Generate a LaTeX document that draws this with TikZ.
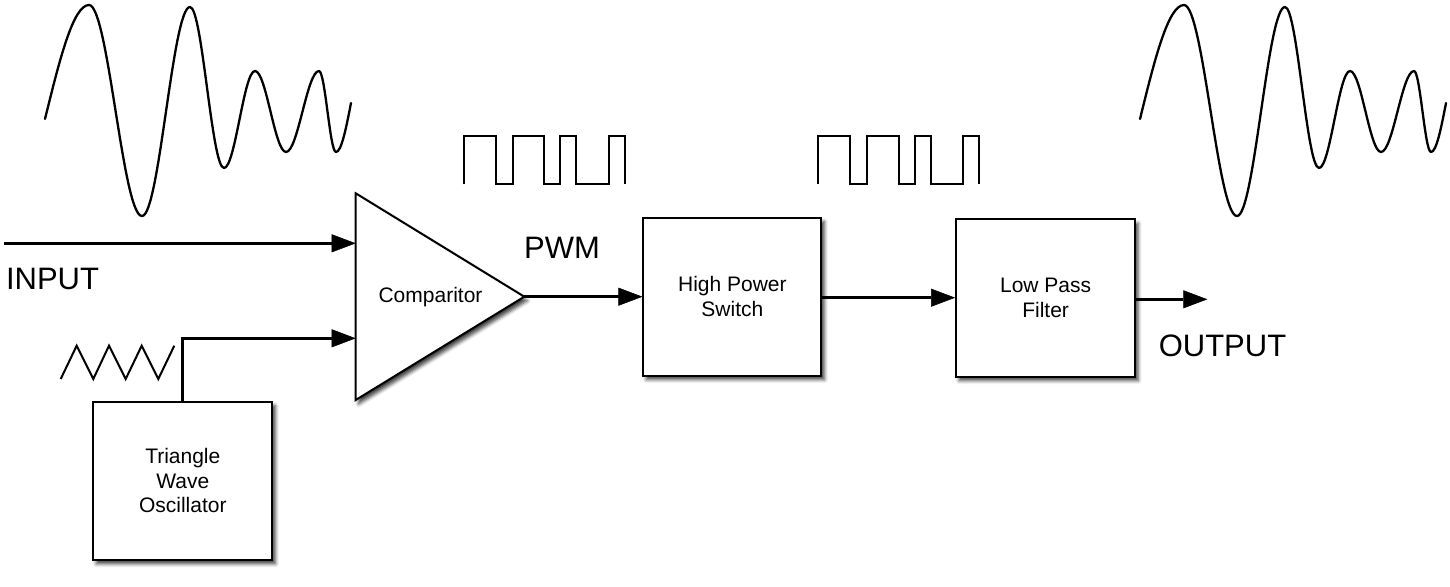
\documentclass[tikz,border=0pt]{standalone}
\usepackage{fontspec}
\setmainfont{Liberation Sans}
\usetikzlibrary{arrows.meta,shadows.blur}
\begin{document}
\begin{tikzpicture}[x=1pt,y=-1pt,
  wire/.style={line width=3pt,-{Triangle[length=24pt,width=18pt,line width=0.5pt,fill=black]}},
  shad/.style={blur shadow={shadow xshift=3pt,shadow yshift=-4pt,shadow blur radius=3.5pt,shadow opacity=75}},
  block/.style={draw,line width=2pt,fill=white,shad,align=center,
    font=\fontsize{21}{24.5}\selectfont,inner sep=0pt},
  biglabel/.style={font=\fontsize{31}{36}\selectfont,inner sep=0pt},
  wave/.style={line width=2.3pt,line join=round,line cap=round},
  sq/.style={line width=2pt,line join=miter}]
\useasboundingbox (0,0) rectangle (1450,586);

% input / output waveforms
\newcommand{\sigwave}{%
  \draw[wave] (45,119) sin (89,5) cos (115.5,110.5) sin (142,216)
    cos (166,111.5) sin (190,7) cos (207,87.5) sin (224,168)
    cos (239.5,119.5) sin (255,71) cos (270.5,111.5) sin (286,152)
    cos (302.5,111.5) sin (319,71) cos (327.5,111.5) sin (336,152)
    cos (351,103);}
\sigwave
\begin{scope}[shift={(1095,0)}]\sigwave\end{scope}

% PWM square waves
\newcommand{\pwmwave}{%
  \draw[sq] (463.6,184.3)--(463.6,135.7)--(496.1,135.7)--(496.1,184.3)--(512.5,184.3)
    --(512.5,135.7)--(544.3,135.7)--(544.3,184.3)--(560.4,184.3)--(560.4,135.7)
    --(576.4,135.7)--(576.4,184.3)--(608.6,184.3)--(608.6,135.7)--(625,135.7)--(625,184.3);}
\pwmwave
\begin{scope}[shift={(354.3,0)}]\pwmwave\end{scope}

% triangle wave
\draw[sq] (60.7,379)--(76.7,345.7)--(93.3,379)--(109,345.7)--(125.7,379)
  --(141.7,345.7)--(158.3,379)--(174.3,345.7);

% comparator
\coordinate (ctop) at (355.7,193.3);
\coordinate (cbot) at (355.7,400);
\coordinate (cout) at (524.3,296.7);
\coordinate (cin1) at (355.7,243.3);
\coordinate (cin2) at (355.7,338.3);
\draw[line width=2pt,fill=white,line join=miter,shad] (ctop) -- (cout) -- (cbot) -- cycle;
\node[font=\fontsize{21}{24.5}\selectfont,inner sep=0pt] (cmp) at (430.5,297) {Comparitor};

% blocks
\node[block,minimum width=178pt,minimum height=158pt] (hps) at (732.4,296.7) {High Power\\Switch};
\node[block,minimum width=179pt,minimum height=157.4pt] (lpf) at (1045.6,298) {Low Pass\\Filter};
\node[block,minimum width=179pt,minimum height=158.3pt] (two) at (182.8,480.8) {Triangle\\Wave\\Oscillator};

% labels
\node[biglabel] (inlbl) at (52.5,279) {INPUT};
\node[biglabel] (pwm) at (562,248) {PWM};
\node[biglabel] (outlbl) at (1222.5,345.5) {OUTPUT};

% connectors
\coordinate (instart) at (4,243.3);
\coordinate (outend) at (1207.3,299.3);
\draw[wire] (instart) -- (cin1);
\draw[wire] (two.north) |- (cin2);
\draw[wire] (cout) -- (cout -| hps.west);
\draw[wire] (hps.east |- 0,297.7) -- (lpf.west |- 0,297.7);
\draw[wire] (lpf.east |- outend) -- (outend);
\end{tikzpicture}
\end{document}
